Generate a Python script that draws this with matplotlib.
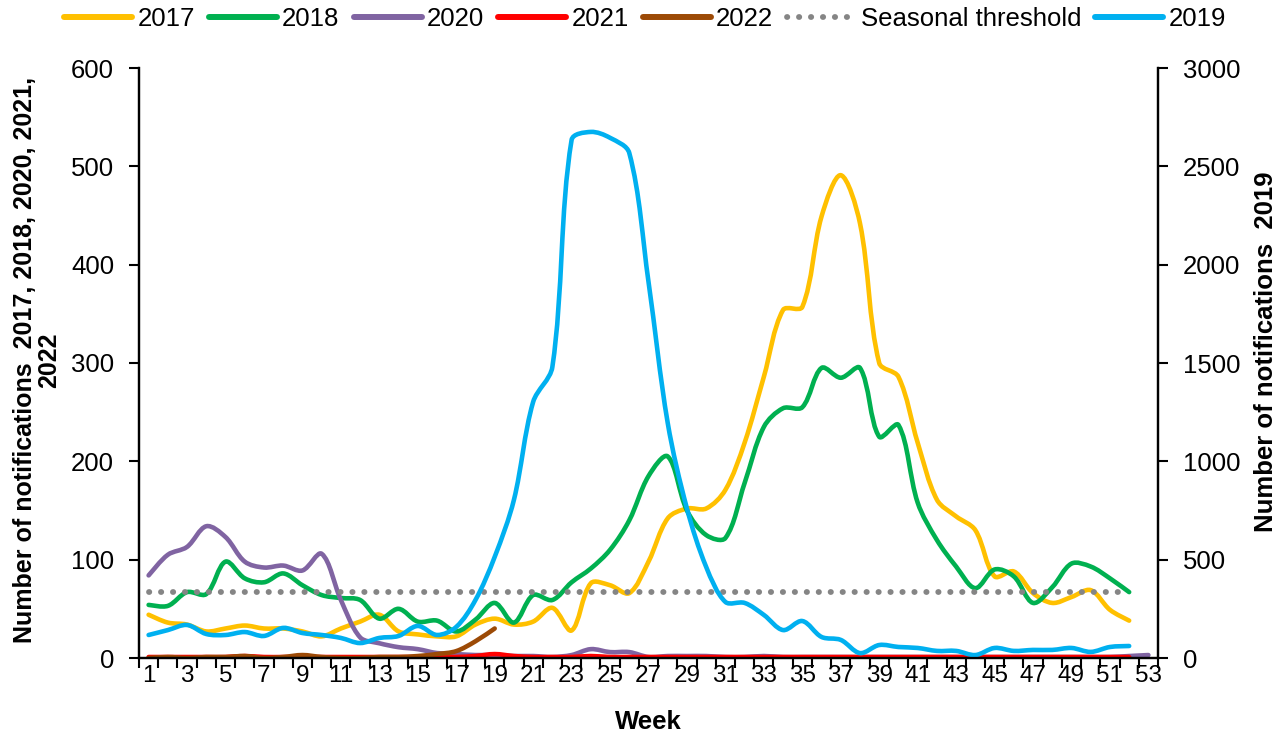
import numpy as np
import matplotlib
matplotlib.use("Agg")
import matplotlib.pyplot as plt
from matplotlib.path import Path
from matplotlib.patches import PathPatch
from matplotlib.lines import Line2D

plt.rcParams['font.family'] = ['Liberation Sans', 'DejaVu Sans']

### DATA ###
weeks = list(range(1, 54))
y2017 = [44, 36, 34, 27, 30, 33, 30, 30, 27, 22, 30, 37, 44, 27, 24, 22, 22, 34, 40, 34,
         37, 51, 28, 76, 74, 66, 98, 142, 152, 152, 171, 219, 286, 354, 357, 449, 491, 442,
         300, 286, 219, 161, 144, 130, 83, 88, 66, 56, 62, 69, 49, 38]
y2018 = [54, 53, 67, 65, 98, 81, 77, 86, 74, 64, 61, 59, 40, 50, 37, 38, 27, 39, 56, 36,
         64, 59, 77, 91, 110, 140, 185, 205, 150, 125, 122, 178, 235, 254, 255, 295, 285, 295,
         225, 237, 158, 120, 93, 71, 90, 83, 56, 72, 96, 93, 81, 67]
y2020 = [84, 105, 113, 134, 123, 98, 92, 94, 89, 106, 59, 21, 15, 11, 9, 5, 4, 3, 3, 2,
         2, 1, 3, 9, 6, 6, 1, 2, 2, 2, 1, 1, 2, 1, 1, 1, 1, 1, 1, 1, 1, 1, 1, 1, 1, 1, 1, 1,
         1, 1, 1, 2, 3]
y2021 = [1, 1, 1, 1, 1, 2, 1, 1, 1, 1, 1, 1, 1, 1, 1, 1, 1, 2, 4, 2, 1, 1, 1, 2, 1, 1,
         1, 1, 1, 1, 1, 1, 1, 1, 1, 1, 1, 1, 1, 1, 1, 1, 1, 1, 1, 1, 1, 1, 1, 1, 1, 1]
y2022 = [0, 1, 0, 1, 1, 2, 0, 1, 3, 1, 0, 0, 1, 1, 2, 4, 7, 17, 30]
y2019 = [117, 142, 168, 122, 117, 132, 112, 153, 127, 117, 102, 76, 102, 112, 163, 117, 158,
         295, 514, 804, 1302, 1480, 2634, 2675, 2645, 2568, 1913, 1195, 760, 463, 285, 280,
         219, 142, 188, 107, 92, 25, 66, 56, 51, 36, 36, 15, 51, 36, 41, 41, 51, 31, 56, 61]
threshold = [67] * 52

C2017 = '#FFC000'
C2018 = '#00B050'
C2020 = '#8064A2'
C2021 = '#FF0000'
C2022 = '#9C4A06'
C2019 = '#00B0F0'
CTHR = '#858585'
LW = 3.3
THR_LW = 4.2
DOTS = (0, (0.05, 2.0))

# pixel scale of the plot area, used so the smoothing behaves like excel's (screen space)
PX_WEEK = 1019 / 53.0
PX_LEFT = 590 / 600.0
PX_RIGHT = 590 / 3000.0


def smooth_path(x, y, sy):
    # smoothed line as cubic bezier segments, control arms weighted by segment length
    P = np.column_stack([np.array(x, float) * PX_WEEK, np.array(y, float) * sy])
    n = len(P)
    outs, ins = [], []
    for i in range(n):
        a = P[max(i - 1, 0)]
        b = P[min(i + 1, n - 1)]
        T = b - a
        dp = np.hypot(*(P[i] - a))
        dn = np.hypot(*(b - P[i]))
        if dp == 0 or dn == 0:
            outs.append(P[i] + T / 6.0)
            ins.append(P[i] - T / 6.0)
        else:
            outs.append(P[i] + T * dn / (dp + dn) / 3.0)
            ins.append(P[i] - T * dp / (dp + dn) / 3.0)
    verts = [P[0]]
    codes = [Path.MOVETO]
    for i in range(n - 1):
        verts += [outs[i], ins[i + 1], P[i + 1]]
        codes += [Path.CURVE4] * 3
    verts = np.array(verts) / np.array([PX_WEEK, sy])
    return Path(verts, codes)


def add_series(ax, vals, color, sy):
    p = smooth_path(weeks[:len(vals)], vals, sy)
    ax.add_patch(PathPatch(p, fill=False, edgecolor=color, lw=LW,
                           capstyle='round', joinstyle='round'))


fig = plt.figure(figsize=(12.82, 7.35), dpi=100)
ax = fig.add_axes([139 / 1282, 1 - 658 / 735, (1158 - 139) / 1282, 590 / 735])
ax2 = ax.twinx()

for vals, col in [(y2017, C2017), (y2018, C2018), (y2020, C2020), (y2021, C2021), (y2022, C2022)]:
    add_series(ax, vals, col, PX_LEFT)
ax.plot(weeks[:len(threshold)], threshold, color=CTHR, lw=THR_LW,
        linestyle=DOTS, dash_capstyle='round')
add_series(ax2, y2019, C2019, PX_RIGHT)

ax.set_xlim(0.5, 53.5)
ax.set_ylim(0, 600)
ax2.set_ylim(0, 3000)
ax.set_yticks(range(0, 601, 100))
ax2.set_yticks(range(0, 3001, 500))

# category boundaries as ticks, labels on odd weeks
ax.set_xticks(np.arange(0.5, 54, 1))
ax.set_xticklabels([])
ax.set_xticks(weeks[::2], minor=True)
ax.set_xticklabels([str(w) for w in weeks[::2]], minor=True)
ax.tick_params(axis='x', which='major', direction='out', length=7, width=1.5)
ax.tick_params(axis='x', which='minor', length=0, pad=5, labelsize=17.5)
ax.tick_params(axis='y', direction='out', length=7, width=1.5, pad=11, labelsize=18.5)
ax2.tick_params(axis='y', direction='out', length=7, width=1.5, pad=11, labelsize=18.5)

for a in (ax, ax2):
    a.spines['top'].set_visible(False)
    for s in ('left', 'right', 'bottom'):
        a.spines[s].set_linewidth(1.6)

fig.text(37 / 1282, 1 - 360 / 735, "Number of notifications  2017, 2018, 2020, 2021,\n2022",
         rotation=90, ha='center', va='center', multialignment='center',
         fontsize=18, fontweight='bold', linespacing=1.05)
fig.text(1266 / 1282, 1 - 352 / 735, "Number of notifications  2019", rotation=90,
         ha='center', va='center', fontsize=18.5, fontweight='bold')
fig.text(648 / 1282, 1 - 722 / 735, "Week", ha='center', va='center',
         fontsize=18.5, fontweight='bold')

handles = [Line2D([], [], color=C2017, lw=LW + 1, solid_capstyle='round'),
           Line2D([], [], color=C2018, lw=LW + 1, solid_capstyle='round'),
           Line2D([], [], color=C2020, lw=LW + 1, solid_capstyle='round'),
           Line2D([], [], color=C2021, lw=LW + 1, solid_capstyle='round'),
           Line2D([], [], color=C2022, lw=LW + 1, solid_capstyle='round'),
           Line2D([], [], color=CTHR, lw=THR_LW, linestyle=DOTS, dash_capstyle='round'),
           Line2D([], [], color=C2019, lw=LW + 1, solid_capstyle='round')]
labels = ['2017', '2018', '2020', '2021', '2022', 'Seasonal threshold', '2019']
fig.legend(handles, labels, loc='center', bbox_to_anchor=(645 / 1282, 1 - 19 / 735),
           ncol=7, frameon=False, fontsize=18.5, handlelength=2.65, handletextpad=0.2,
           columnspacing=0.55, borderpad=0, borderaxespad=0)

fig.savefig('out.png', dpi=100)
